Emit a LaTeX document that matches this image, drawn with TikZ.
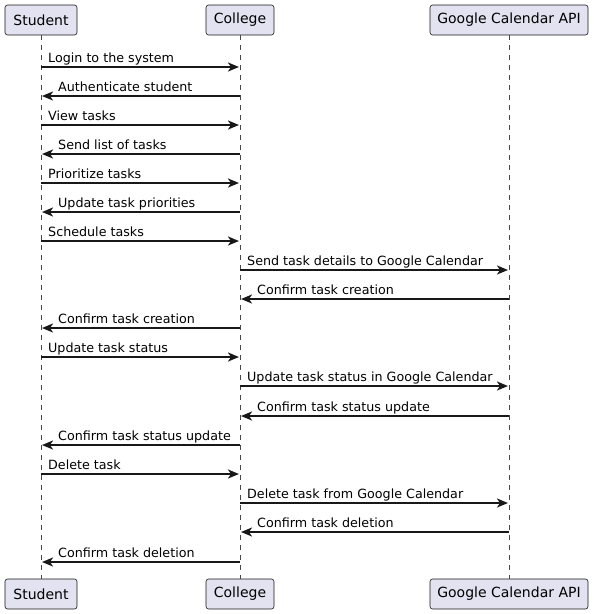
\documentclass[tikz,border=0pt]{standalone}
\usepackage{fontspec}
\setmainfont{DejaVu Sans}
\usetikzlibrary{arrows.meta,calc}
\definecolor{pfill}{HTML}{E2E2F0}
\definecolor{pline}{HTML}{181818}
\begin{document}
\begin{tikzpicture}[x=1pt,y=-1pt,
 part/.style={draw=pline, fill=pfill, rounded corners=2.5pt, line width=0.6pt, minimum height=30pt, inner xsep=0pt, font=\fontsize{14}{16}\selectfont, text=black},
 life/.style={draw=pline!80, line width=0.4pt, dash pattern=on 5pt off 5pt},
 msgline/.style={draw=pline, line width=2pt, shorten >=1pt, -{Stealth[length=11pt,width=9pt,inset=3pt]}},
 lbl/.style={anchor=base west, inner sep=0pt, font=\fontsize{12.7}{15}\selectfont, text=black}]
\useasboundingbox (0,0) rectangle (594,614);
\node[part, minimum width=72pt] (sT) at (41,20) {Student};
\node[part, minimum width=68pt] (cT) at (240,20) {College};
\node[part, minimum width=158pt] (gT) at (509,20) {Google Calendar API};
\node[part, minimum width=72pt] (sB) at (41,594) {Student};
\node[part, minimum width=68pt] (cB) at (240,594) {College};
\node[part, minimum width=158pt] (gB) at (509,594) {Google Calendar API};
\draw[life] (sT.south) -- (sB.north);
\draw[life] (cT.south) -- (cB.north);
\draw[life] (gT.south) -- (gB.north);
\foreach \f/\t/\y/\l/\d/\txt in {
 sT/cT/67/sT/7/Login to the system,
 cT/sT/96/sT/17/Authenticate student,
 sT/cT/125/sT/7/View tasks,
 cT/sT/154/sT/17/Send list of tasks,
 sT/cT/183/sT/7/Prioritize tasks,
 cT/sT/212/sT/17/Update task priorities,
 sT/cT/241/sT/7/Schedule tasks,
 cT/gT/270/cT/7/Send task details to Google Calendar,
 gT/cT/299/cT/17/Confirm task creation,
 cT/sT/328/sT/17/Confirm task creation,
 sT/cT/357/sT/7/Update task status,
 cT/gT/386/cT/7/Update task status in Google Calendar,
 gT/cT/416/cT/17/Confirm task status update,
 cT/sT/445/sT/17/Confirm task status update,
 sT/cT/474/sT/7/Delete task,
 cT/gT/503/cT/7/Delete task from Google Calendar,
 gT/cT/532/cT/17/Confirm task deletion,
 cT/sT/562/sT/17/Confirm task deletion}
{
 \draw[msgline] (\f |- 0,\y) -- (\t |- 0,\y);
 \node[lbl] (m\y) at ($(\l |- 0,\y)+(\d,-4.5)$) {\txt};
}
\end{tikzpicture}
\end{document}
